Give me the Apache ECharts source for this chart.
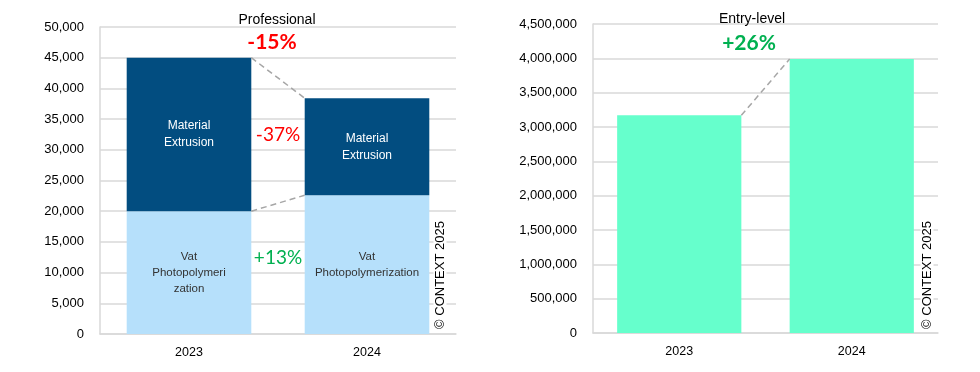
<!DOCTYPE html>
<html>
<head>
<meta charset="utf-8">
<script src="https://cdn.jsdelivr.net/npm/echarts@6/dist/echarts.min.js"></script>
<style>
html,body{margin:0;padding:0;background:#fff;}
#c{width:980px;height:372px;}
</style>
</head>
<body>
<div id="c"></div>
<script>
// ---- Data ----
const years = ['2023', '2024'];
const proVat = [20000, 22600];
const proMatExt = [25000, 15800];
const proVatLabels = ['Vat\nPhotopolymeri\nzation', 'Vat\nPhotopolymerization'];
const proMatExtLabel = 'Material\nExtrusion';
const entryValues = [3170000, 3990000];
const proTitle = 'Professional';
const entryTitle = 'Entry-level';
const proTotalChange = '-15%';
const proMatExtChange = '-37%';
const proVatChange = '+13%';
const entryChange = '+26%';
const copyright = '\u00A9 CONTEXT 2025';

const proTotals = proVat.map((v, i) => v + proMatExt[i]);

const FONT = '"Liberation Sans", Arial, sans-serif';
const fmt = v => v.toLocaleString('en-US');

function connector(barRatio) {
  return function (params, api) {
    const c0 = api.coord([0, api.value(1)]);
    const c1 = api.coord([1, api.value(2)]);
    const half = api.size([1, 0])[0] * barRatio / 2;
    return {
      type: 'line',
      shape: { x1: c0[0] + half, y1: c0[1], x2: c1[0] - half, y2: c1[1] },
      style: { stroke: '#a6a6a6', lineWidth: 1.5, lineDash: [6, 4] }
    };
  };
}

const chart = echarts.init(document.getElementById('c'));
chart.setOption({
  animation: false,
  backgroundColor: '#fff',
  textStyle: { fontFamily: FONT },
  title: [
    { text: proTitle, left: 272, top: 8, textAlign: 'center',
      textStyle: { fontSize: 14, fontWeight: 'normal', color: '#000', fontFamily: FONT } },
    { text: entryTitle, left: 747, top: 7, textAlign: 'center',
      textStyle: { fontSize: 14, fontWeight: 'normal', color: '#000', fontFamily: FONT } }
  ],
  grid: [
    { left: 100, right: 524, top: 27, bottom: 38 },
    { left: 593, right: 42, top: 24, bottom: 39 }
  ],
  xAxis: [0, 1].map(i => ({
    type: 'category', gridIndex: i, data: years,
    axisTick: { show: false },
    axisLine: { lineStyle: { color: '#d9d9d9', width: 1.5 } },
    axisLabel: { color: '#000', fontSize: 12.5, margin: 12, fontFamily: FONT }
  })),
  yAxis: [
    { type: 'value', gridIndex: 0, min: 0, max: 50000, interval: 5000 },
    { type: 'value', gridIndex: 1, min: 0, max: 4500000, interval: 500000 }
  ].map(a => Object.assign(a, {
    axisLine: { show: true, lineStyle: { color: '#d9d9d9', width: 1.5 } },
    axisTick: { show: false },
    splitLine: { lineStyle: { color: '#d9d9d9', width: 1.5 } },
    axisLabel: { color: '#000', fontSize: 13, margin: 16, fontFamily: FONT, formatter: fmt }
  })),
  series: [
    {
      type: 'bar', xAxisIndex: 0, yAxisIndex: 0, stack: 'pro', barCategoryGap: '30%',
      data: proVat.map((v, i) => ({ value: v, label: { formatter: proVatLabels[i] } })),
      itemStyle: { color: '#b6e0fb' },
      label: { show: true, position: 'inside', color: '#333', fontSize: 11.5, lineHeight: 16, fontFamily: FONT }
    },
    {
      type: 'bar', xAxisIndex: 0, yAxisIndex: 0, stack: 'pro', barCategoryGap: '30%',
      data: proMatExt,
      itemStyle: { color: '#024d80' },
      label: { show: true, position: 'inside', color: '#fff', fontSize: 12, lineHeight: 17,
               fontFamily: FONT, formatter: proMatExtLabel }
    },
    {
      type: 'custom', xAxisIndex: 0, yAxisIndex: 0, silent: true, z: 5,
      renderItem: connector(0.7),
      data: [[0, proTotals[0], proTotals[1]], [0, proVat[0], proVat[1]]]
    },
    {
      type: 'bar', xAxisIndex: 1, yAxisIndex: 1, barCategoryGap: '28%',
      data: entryValues,
      itemStyle: { color: '#66ffcc' }
    },
    {
      type: 'custom', xAxisIndex: 1, yAxisIndex: 1, silent: true, z: 5,
      renderItem: connector(0.72),
      data: [[0, entryValues[0], entryValues[1]]]
    }
  ],
  graphic: [
    { type: 'text', x: 272, y: 42, style: { text: proTotalChange, fill: '#ff0000', font: 'bold 21px Lato, "Open Sans", sans-serif', align: 'center', verticalAlign: 'middle' } },
    { type: 'text', x: 278, y: 135, style: { text: proMatExtChange, fill: '#ff0000', font: '19px Lato, "Open Sans", sans-serif', align: 'center', verticalAlign: 'middle' } },
    { type: 'text', x: 278, y: 258, style: { text: proVatChange, fill: '#00b050', font: '19px Lato, "Open Sans", sans-serif', align: 'center', verticalAlign: 'middle' } },
    { type: 'text', x: 749, y: 43, style: { text: entryChange, fill: '#00b050', font: 'bold 21px Lato, "Open Sans", sans-serif', align: 'center', verticalAlign: 'middle' } },
    { type: 'text', x: 440, y: 275, rotation: Math.PI / 2, z: 10,
      style: { text: copyright, fill: '#000', font: '13px "Liberation Sans", Arial, sans-serif', align: 'center', verticalAlign: 'middle', backgroundColor: '#fff' } },
    { type: 'text', x: 927, y: 275, rotation: Math.PI / 2, z: 10,
      style: { text: copyright, fill: '#000', font: '13px "Liberation Sans", Arial, sans-serif', align: 'center', verticalAlign: 'middle', backgroundColor: '#fff' } }
  ]
});
</script>
</body>
</html>
